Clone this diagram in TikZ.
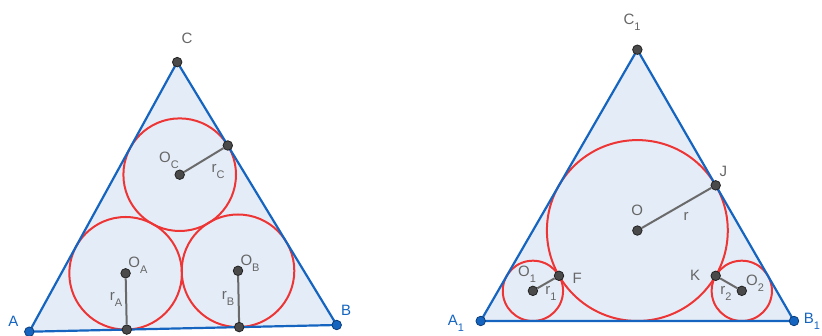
\documentclass[tikz,border=0pt]{standalone}
\usepackage{fontspec}
\setmainfont{Liberation Sans}
\usetikzlibrary{backgrounds}

\definecolor{ggblue}{HTML}{1565C0}
\definecolor{ggdarkblue}{HTML}{0B3C7A}
\definecolor{ggfill}{HTML}{E4ECF7}
\definecolor{ggred}{HTML}{EE3535}
\definecolor{gggray}{HTML}{6A6A6A}
\definecolor{ggtext}{HTML}{666666}
\definecolor{ggpoint}{HTML}{4A4A4A}
\definecolor{ggdark}{HTML}{222222}

% subscript the way the labels show it
\newcommand{\lsub}[1]{\raisebox{-6pt}{\fontsize{11}{11}\selectfont #1}}

\tikzset{
  gpt/.style={circle, fill=ggpoint, draw=ggdark, line width=0.8pt, inner sep=0pt, minimum size=9.5pt},
  bpt/.style={gpt, fill=ggblue, draw=ggdarkblue},
  lbl/.style={text=ggtext, font=\fontsize{15}{17}\selectfont, inner sep=0pt},
  blbl/.style={lbl, text=ggblue},
  side/.style={ggblue, line width=2.2pt, line join=round},
  ring/.style={ggred, line width=2pt},
  rad/.style={gggray, line width=2pt},
}

\begin{document}
\begin{tikzpicture}[x=1pt, y=1pt]
  \useasboundingbox (0,0) rectangle (822,336);
  % left triangle, three equal circles
  \node[bpt] (A) at (29.3,4.3) {};
  \node[bpt] (B) at (336.7,11) {};
  \node[gpt] (C) at (177.2,273.9) {};
  \node[gpt] (OA) at (125.6,62.7) {};
  \node[gpt] (FA) at (126.8,6.4) {};
  \node[gpt] (OB) at (238.0,65.2) {};
  \node[gpt] (FB) at (239.2,8.9) {};
  \node[gpt] (OC) at (179.7,161.3) {};
  \node[gpt] (TC) at (227.8,190.5) {};
  % right triangle, incircle and two small circles
  \node[bpt] (A1) at (480.7,15) {};
  \node[bpt] (B1) at (794,15) {};
  \node[gpt] (C1) at (637.35,286.3) {};
  \node[gpt] (O) at (637.35,105.45) {};
  \node[gpt] (J) at (715.7,150.65) {};
  \node[gpt] (O1) at (532.9,45.15) {};
  \node[gpt] (F) at (559.0,60.2) {};
  \node[gpt] (O2) at (741.8,45.15) {};
  \node[gpt] (K) at (715.7,60.2) {};
  \begin{scope}[on background layer]
    \fill[ggfill] (A.center) -- (B.center) -- (C.center) -- cycle;
    \fill[ggfill] (A1.center) -- (B1.center) -- (C1.center) -- cycle;
    \draw[ring] (OA.center) circle[radius=56.3pt];
    \draw[ring] (OB.center) circle[radius=56.3pt];
    \draw[ring] (OC.center) circle[radius=56.3pt];
    \draw[ring] (O.center) circle[radius=90.45pt];
    \draw[ring] (O1.center) circle[radius=30.15pt];
    \draw[ring] (O2.center) circle[radius=30.15pt];
    \draw[side] (A.center) -- (B.center) -- (C.center) -- cycle;
    \draw[side] (A1.center) -- (B1.center) -- (C1.center) -- cycle;
  \end{scope}
  \draw[rad] (OA) -- (FA);
  \draw[rad] (OB) -- (FB);
  \draw[rad] (OC) -- (TC);
  \draw[rad] (O) -- (J);
  \draw[rad] (O1) -- (F);
  \draw[rad] (O2) -- (K);
  % labels
  \node[blbl] (lA) at (13.3,14.3) {A};
  \node[blbl] (lB) at (346,26) {B};
  \node[lbl] (lC) at (187,297.7) {C};
  \node[lbl] (lOA) at (138,71) {O\lsub{A}};
  \node[lbl] (lrA) at (116,37) {r\lsub{A}};
  \node[lbl] (lOB) at (250,73) {O\lsub{B}};
  \node[lbl] (lrB) at (228,38) {r\lsub{B}};
  \node[lbl] (lOC) at (169,176) {O\lsub{C}};
  \node[lbl] (lrC) at (218,164) {r\lsub{C}};
  \node[blbl] (lA1) at (456,13) {A\lsub{1}};
  \node[blbl] (lB1) at (812,15) {B\lsub{1}};
  \node[lbl] (lC1) at (632,314) {C\lsub{1}};
  \node[lbl] (lO) at (637.3,125.3) {O};
  \node[lbl] (lr) at (686,120) {r};
  \node[lbl] (lJ) at (723.3,164.3) {J};
  \node[lbl] (lO1) at (527,62) {O\lsub{1}};
  \node[lbl] (lr1) at (551,43) {r\lsub{1}};
  \node[lbl] (lF) at (577.3,57.7) {F};
  \node[lbl] (lK) at (695,61) {K};
  \node[lbl] (lO2) at (755,53) {O\lsub{2}};
  \node[lbl] (lr2) at (726,43) {r\lsub{2}};
\end{tikzpicture}
\end{document}
